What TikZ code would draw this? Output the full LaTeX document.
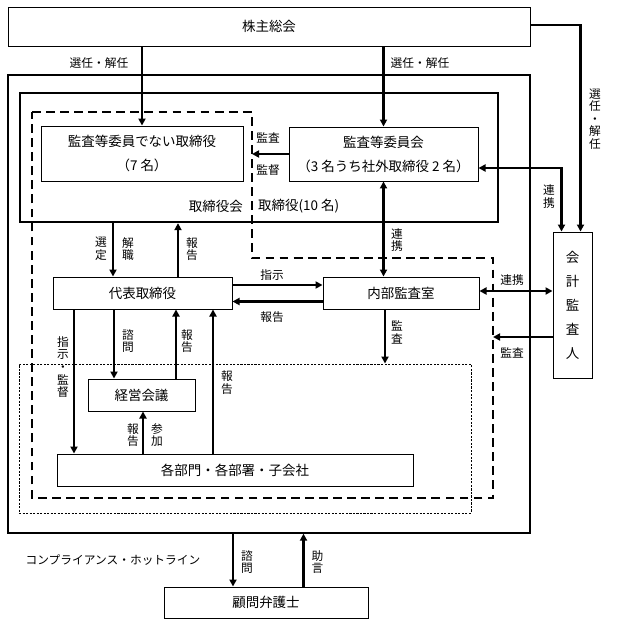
\documentclass[tikz,border=0pt]{standalone}
\usepackage{fontspec}
\setmainfont{Noto Sans CJK JP}
\usetikzlibrary{arrows.meta,calc}
\newcommand{\unitpx}{0.03cm}
\newcommand{\boxfont}{\fontsize{11.5}{20.5}\selectfont}
\newcommand{\labfont}{\fontsize{10}{10.8}\selectfont}
\tikzset{
  box/.style={draw, line width=0.8pt, inner sep=0pt, font=\boxfont, align=center},
  boxsize/.style 2 args={minimum width=#1*\unitpx, minimum height=#2*\unitpx},
  arr/.style={line width=1.8pt, -{Triangle[length=6pt,width=6pt]}},
  darr/.style={line width=1.8pt, {Triangle[length=6pt,width=6pt]}-{Triangle[length=6pt,width=6pt]}},
  lab/.style={font=\labfont, inner sep=0pt, align=center},
  dashbox/.style={line width=1.6pt, dash pattern=on 7.5pt off 4.5pt},
  dotbox/.style={line width=0.8pt, dash pattern=on 1.8pt off 1.2pt},
}
\begin{document}
\begin{tikzpicture}[x=\unitpx, y=-\unitpx]
		%%%%% START %%%%%
		\useasboundingbox (0,0) rectangle (623,625);
		
		\node[box, boxsize={522}{39}] (kabu) at (269,26.5) {株主総会};
		\node[box, boxsize={522}{458}, line width=1.1pt] (outer) at (269,304) {};
		\node[box, boxsize={478}{129}, line width=2pt] (torishimari) at (259,157.5) {};
		
		\coordinate (dtr) at (252,112);
		\coordinate (dbr) at (493,498);
		\draw[dashbox] (32,112) -- (dtr) -- (252,258) -- (493,258) -- (dbr) -- (32,498) -- cycle;
		\node[box, dotbox, boxsize={452}{149}] (grp) at (245,438.5) {};
		
		\node[box, boxsize={202}{55}] (nd) at (142,153.5) {監査等委員でない取締役\\（7 名）};
		\node[box, boxsize={189}{54}] (iinkai) at (383.5,154) {監査等委員会\\（3 名うち社外取締役 2 名）};
		\node[font=\boxfont, inner sep=0pt, anchor=east] (tlab) at (243,206) {取締役会};
		\node[font=\boxfont, inner sep=0pt, anchor=west] (tnum) at (258,206) {取締役(10 名)};
		
		\node[box, boxsize={179}{32}] (daihyo) at (142.5,293) {代表取締役};
		\node[box, boxsize={156}{32}] (naibu) at (401,293) {内部監査室};
		\node[box, boxsize={39}{146}] (kaikei) at (572.5,305) {会\\計\\監\\査\\人};
		\node[box, boxsize={107}{32}] (keiei) at (141.5,395) {経営会議};
		\node[box, boxsize={356}{32}] (kakubu) at (235,470) {各部門・各部署・子会社};
		\node[box, boxsize={204}{31}] (komon) at (266,602.5) {顧問弁護士};
		
		% 株主総会から
		\draw[arr] (kabu.south -| nd.north) -- (nd.north);
		\draw[arr] (kabu.south -| iinkai.north) -- (iinkai.north);
		\coordinate (k1) at ($(kaikei.north)+(8,0)$);
		\coordinate (k2) at ($(kaikei.north)+(-11,0)$);
		\draw[arr] ($(kabu.east)+(0,-1.5)$) -| (k1);
		\draw[darr] ($(iinkai.east)+(0,14)$) -| (k2);
		\draw[arr] (iinkai.west) -- (iinkai.west -| dtr);
		\draw[darr] (iinkai.south) -- (iinkai.south |- naibu.north);
		
		% 代表取締役まわり
		\coordinate (d1) at ($(daihyo.north)+(-29.5,0)$);
		\coordinate (d2) at ($(daihyo.north)+(35.5,0)$);
		\draw[arr] (torishimari.south -| d1) -- (d1);
		\draw[arr] (d2) -- (torishimari.south -| d2);
		\draw[arr] ($(daihyo.east)+(0,-8)$) -- ($(naibu.west)+(0,-8)$);
		\draw[arr] ($(naibu.west)+(0,8.5)$) -- ($(daihyo.east)+(0,8.5)$);
		\draw[darr] ($(naibu.east)+(0,-2)$) -- ($(naibu.east -| kaikei.west)+(0,-2)$);
		\coordinate (k3) at ($(kaikei.west)+(0,32)$);
		\draw[arr] (k3) -- (k3 -| dbr);
		\coordinate (n1) at ($(naibu.south)+(-16,0)$);
		\draw[arr] (n1) -- (n1 |- grp.north);
		
		\coordinate (s1) at ($(daihyo.south)+(-68.5,0)$);
		\coordinate (s2) at ($(daihyo.south)+(-28.5,0)$);
		\coordinate (s3) at ($(daihyo.south)+(33.5,0)$);
		\coordinate (s4) at ($(daihyo.south)+(70.5,0)$);
		\draw[arr] (s1) -- (s1 |- kakubu.north);
		\draw[arr] (s2) -- (s2 |- keiei.north);
		\draw[arr] (s3 |- keiei.north) -- (s3);
		\draw[arr] (s4 |- kakubu.north) -- (s4);
		\draw[arr] ($(kakubu.north -| keiei.south)+(1.5,0)$) -- ($(keiei.south)+(1.5,0)$);
		
		% 顧問弁護士
		\coordinate (b1) at ($(komon.north)+(-33,0)$);
		\coordinate (b2) at ($(komon.north)+(37.5,0)$);
		\draw[arr] (b1 |- outer.south) -- (b1);
		\draw[arr] (b2) -- (b2 |- outer.south);
		
		% ラベル
		\node[lab] (l1) at (99,63) {選任・解任};
		\node[lab] (l2) at (420,63) {選任・解任};
		\node[lab] (l3) at (595,119) {選\\任\\・\\解\\任};
		\node[lab] (l4) at (268,138) {監査};
		\node[lab] (l5) at (268,170) {監督};
		\node[lab] (l6) at (549,196.5) {連\\携};
		\node[lab] (l7) at (397,240) {連\\携};
		\node[lab] (l8) at (101,249) {選\\定};
		\node[lab] (l9) at (128,249) {解\\職};
		\node[lab] (l10) at (192,249) {報\\告};
		\node[lab] (l11) at (272,275) {指示};
		\node[lab] (l12) at (272,317) {報告};
		\node[lab] (l13) at (512,280) {連携};
		\node[lab] (l14) at (512,353) {監査};
		\node[lab] (l15) at (397,332.5) {監\\査};
		\node[lab] (l16) at (128,341) {諮\\問};
		\node[lab] (l17) at (187,341) {報\\告};
		\node[lab] (l18) at (63,367) {指\\示\\・\\監\\督};
		\node[lab] (l19) at (227,382.5) {報\\告};
		\node[lab] (l20) at (133,435) {報\\告};
		\node[lab] (l21) at (157,435) {参\\加};
		\node[lab] (l22) at (113,560) {コンプライアンス・ホットライン};
		\node[lab] (l23) at (247,562) {諮\\問};
		\node[lab] (l24) at (317.5,562) {助\\言};
		
		%%%%% END %%%%%
\end{tikzpicture}
\end{document}
